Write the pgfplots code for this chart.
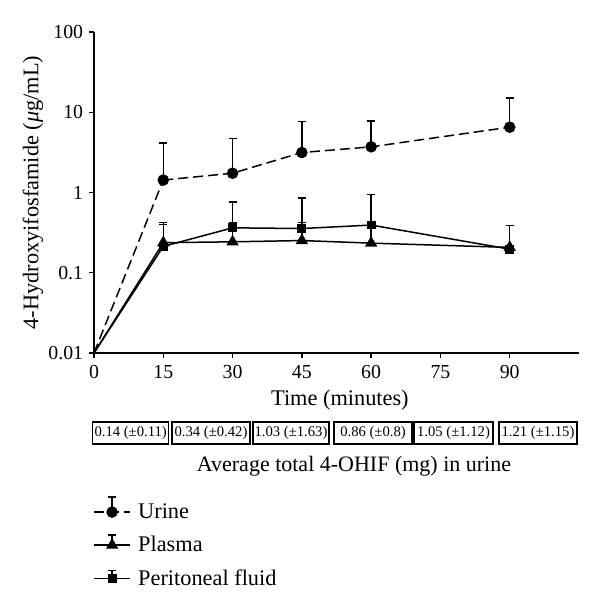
\documentclass[border=0pt]{standalone}
\usepackage{fontspec}
\setmainfont{Liberation Serif}
\usepackage{pgfplots}
\pgfplotsset{compat=1.18}
\pgfplotstableread{
x y ey
15 1.43 2.73
30 1.74 2.96
45 3.15 4.51
60 3.71 4.10
90 6.52 8.48
}\urine
\pgfplotstableread{
x y ey
15 0.237 0.183
30 0.243 0.177
45 0.252 0.168
60 0.234 0.150
90 0.207 0.183
}\plasma
\pgfplotstableread{
x y ey
15 0.213 0.187
30 0.363 0.403
45 0.356 0.504
60 0.393 0.547
90 0.197 0.193
}\perit
\newcommand\lblfont{\fontsize{13.4}{16}\selectfont}
\pgfplotsset{
  errlegend/.style={legend image code/.code={
    \draw[mark repeat=2,mark phase=2,##1] plot coordinates {(0pt,0pt) (10.8pt,0pt) (21.6pt,0pt)};
    \draw[solid, line width=0.9pt] (10.8pt,0pt) -- (10.8pt,#1) (8.4pt,#1) -- (13.2pt,#1);
  }},
}
\begin{document}
\begin{tikzpicture}
\path (0,0) rectangle (360pt,-366pt);
\begin{axis}[
  at={(56.4pt,-211.8pt)}, anchor=south west,
  scale only axis, width=291pt, height=192.6pt,
  xmin=0, xmax=105, ymin=0.01, ymax=100,
  ymode=log, yminorticks=false,
  axis lines=left, axis line style={-, line width=0.8pt},
  tick align=outside, major tick length=3pt,
  tick style={line width=0.8pt, black},
  xtick={0,15,30,45,60,75,90},
  ytick={0.01,0.1,1,10,100},
  yticklabels={0.01,0.1,1,10,100},
  /pgf/number format/assume math mode=true,
  tick label style={font=\fontsize{11.9}{14}\selectfont},
  xticklabel style={yshift=-1pt},
  xlabel={Time (minutes)},
  ylabel={4-Hydroxyifosfamide (\textit{μ}g/mL)},
  every axis x label/.style={at={(axis description cs:0.507,-0.146)}, anchor=center, font=\lblfont},
  every axis y label/.style={at={(axis description cs:-0.126,0.5)}, rotate=90, anchor=center, font=\lblfont},
  clip=false,
  legend style={at={(axis description cs:-0.002,-0.4455)}, anchor=north west, draw=none, fill=none,
    font=\lblfont, nodes={font=\lblfont, inner sep=1pt}, row sep=7.2pt, column sep=3.4pt, inner sep=0pt},
  legend cell align=left,
  error bars/error bar style={line width=0.9pt, solid},
  error bars/error mark options={rotate=90, line width=0.9pt, mark size=2.4pt, solid},
]
\addplot[black, line width=0.9pt, dash pattern=on 6pt off 3pt, forget plot] coordinates {(0,0.01) (15,1.43)};
\addplot[black, line width=0.9pt, solid, forget plot] coordinates {(0,0.01) (15,0.237)};
\addplot[black, line width=0.9pt, solid, forget plot] coordinates {(0,0.01) (15,0.213)};
\addplot[black, line width=0.9pt, dash pattern=on 6pt off 3pt, mark=*, mark size=3pt, mark options={solid},
  errlegend=9pt,
  error bars/.cd, y dir=plus, y explicit] table[x=x, y=y, y error=ey] {\urine};
\addlegendentry{Urine}
\addplot[black, line width=0.9pt, solid, mark=triangle*, mark size=3.4pt, errlegend=6pt,
  error bars/.cd, y dir=plus, y explicit] table[x=x, y=y, y error=ey] {\plasma};
\addlegendentry{Plasma}
\addplot[black, line width=0.9pt, solid, mark=square*, mark size=2.2pt, errlegend=5pt,
  error bars/.cd, y dir=plus, y explicit] table[x=x, y=y, y error=ey] {\perit};
\addlegendentry{Peritoneal fluid}
\end{axis}
\begin{scope}[every node/.style={draw, line width=0.8pt, inner sep=0pt, minimum height=13.2pt, font=\fontsize{8.8}{10}\selectfont, anchor=center}]
\node[minimum width=45.6pt] at (78.4pt,-259.8pt) {0.14 (±0.11)};
\node[minimum width=46.8pt] at (126.6pt,-259.8pt) {0.34 (±0.42)};
\node[minimum width=45.6pt] at (174.6pt,-259.8pt) {1.03 (±1.63)};
\node[minimum width=46.8pt] at (223.8pt,-259.8pt) {0.86 (±0.8)};
\node[minimum width=47.4pt] at (272.1pt,-259.8pt) {1.05 (±1.12)};
\node[minimum width=46.8pt] at (322.8pt,-259.8pt) {1.21 (±1.15)};
\end{scope}
\node[font=\fontsize{13.2}{16}\selectfont, anchor=center] at (212.4pt,-279.6pt) {Average total 4-OHIF (mg) in urine};
\end{tikzpicture}
\end{document}
